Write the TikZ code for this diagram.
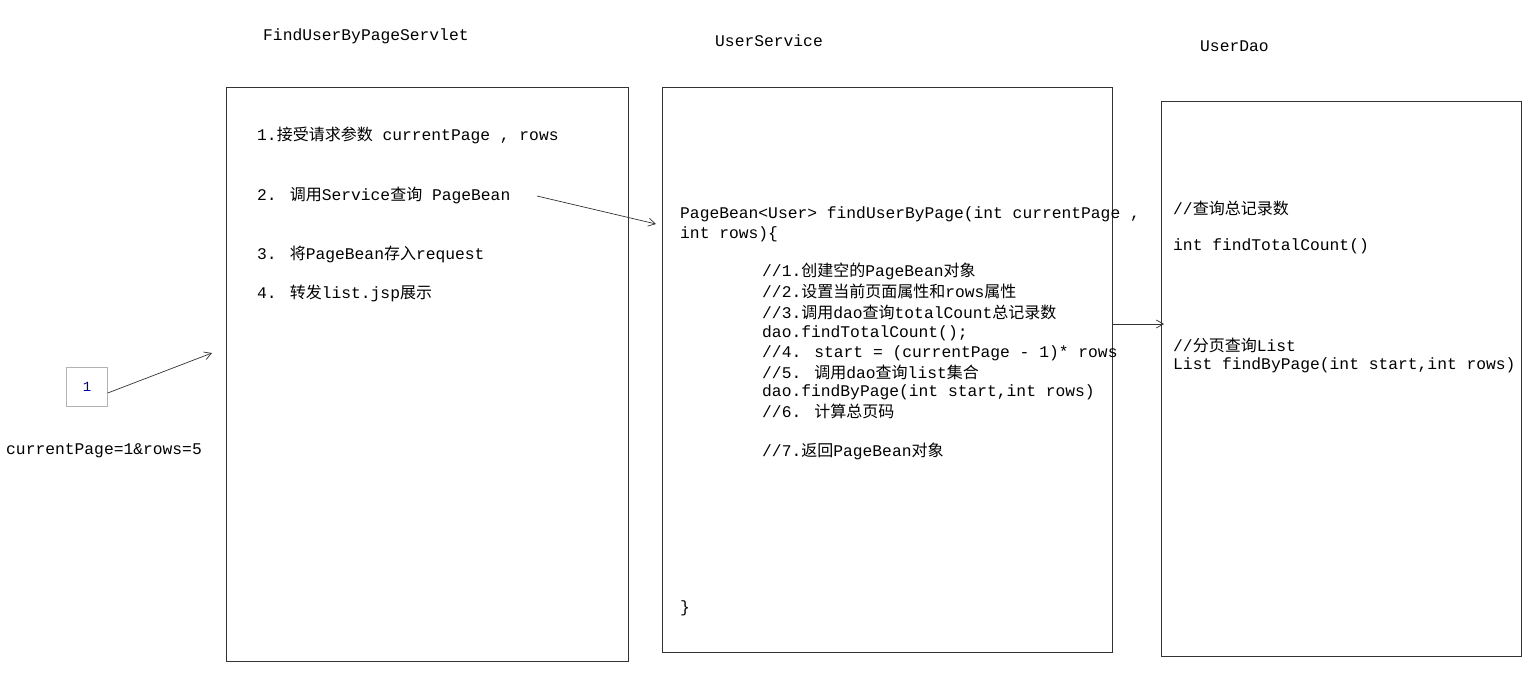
\documentclass[tikz,border=0pt]{standalone}
\usepackage{fontspec}
\usetikzlibrary{arrows.meta}
\setmainfont{Liberation Mono}
\newfontfamily\cjk{Noto Sans CJK SC}
\newcommand\zh[1]{{\cjk\fontsize{16}{20}\selectfont #1}}
\begin{document}
\begin{tikzpicture}[x=1pt,y=-1pt,
  box/.style={draw=black!80,line width=0.8pt},
  txt/.style={anchor=west,inner sep=0pt,font=\fontsize{16.3}{20}\selectfont},
  arr/.style={-{Straight Barb[length=7pt,width=8pt]},line width=0.7pt,black!80}]
\useasboundingbox (0,0) rectangle (1523,675);
\fill[white] (0,0) rectangle (1523,675);
% boxes
\draw[box] (226,87) rectangle (628,661);
\draw[box] (662,87) rectangle (1112,652);
\draw[box] (1161,101) rectangle (1521,656);
\node[draw=black!30,minimum width=41pt,minimum height=39pt,inner sep=0pt,text=blue!60!black,font=\fontsize{14}{14}\selectfont] (one) at (87,387) {1};
% titles
\node[txt] (t1) at (263,36) {FindUserByPageServlet};
\node[txt] (t2) at (715,41) {UserService};
\node[txt] (t3) at (1200,46) {UserDao};
\node[txt] (q) at (6,451) {currentPage=1\&rows=5};
% servlet
\node[txt] (s1) at (257,135) {1.\zh{接受请求参数} currentPage , rows};
\node[txt] (s2) at (257,195) {2. \zh{调用}Service\zh{查询} PageBean};
\node[txt] (s3) at (257,254) {3. \zh{将}PageBean\zh{存入}request};
\node[txt] (s4) at (257,293) {4. \zh{转发}list.jsp\zh{展示}};
% service
\node[txt] (v0) at (680,214) {PageBean<User> findUserByPage(int currentPage ,};
\node[txt] (v1) at (680,234) {int rows)\{};
\node[txt] (v2) at (762,271) {//1.\zh{创建空的}PageBean\zh{对象}};
\node[txt] (v3) at (762,291) {//2.\zh{设置当前页面属性和}rows\zh{属性}};
\node[txt] (v4) at (762,312) {//3.\zh{调用}dao\zh{查询}totalCount\zh{总记录数}};
\node[txt] (v5) at (762,333) {dao.findTotalCount();};
\node[txt] (v6) at (762,353) {//4. start = (currentPage - 1)* rows};
\node[txt] (v7) at (762,372) {//5. \zh{调用}dao\zh{查询}list\zh{集合}};
\node[txt] (v8) at (762,392) {dao.findByPage(int start,int rows)};
\node[txt] (v9) at (762,411) {//6. \zh{计算总页码}};
\node[txt] (v10) at (762,451) {//7.\zh{返回}PageBean\zh{对象}};
\node[txt] (v11) at (680,608) {\}};
% dao
\node[txt] (d1) at (1173,208) {//\zh{查询总记录数}};
\node[txt] (d2) at (1173,246) {int findTotalCount()};
\node[txt] (d3) at (1173,345) {//\zh{分页查询}List};
\node[txt] (d4) at (1173,365) {List findByPage(int start,int rows)};
% arrows
\coordinate (a1) at (537,196); \coordinate (a2) at (656,224);
\draw[arr] (a1) -- (a2);
\coordinate (b2) at (212,353);
\draw[arr] (one.east) ++(0,6) -- (b2);
\coordinate (c1) at (1112,324); \coordinate (c2) at (1164,324);
\draw[arr] (c1) -- (c2);
\end{tikzpicture}
\end{document}
